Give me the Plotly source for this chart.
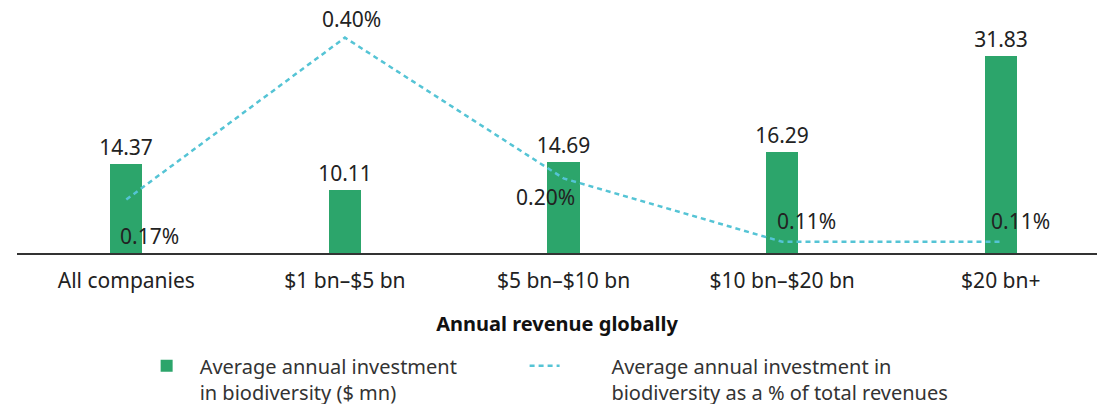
import plotly.graph_objects as go

categories = ["All companies", "$1 bn\u2013$5 bn", "$5 bn\u2013$10 bn", "$10 bn\u2013$20 bn", "$20 bn+"]
investment_mn = [14.37, 10.11, 14.69, 16.29, 31.83]
pct_revenue = [0.17, 0.40, 0.20, 0.11, 0.11]
pct_labels = ["0.17%", "0.40%", "0.20%", "0.11%", "0.11%"]

green = "#2ca56b"
cyan = "#55c4d5"
font = "Noto Sans"
pad = "\u00a0" * 9  # extra gap between the dotted line key and its text

fig = go.Figure()

fig.add_trace(go.Bar(
    x=categories,
    y=investment_mn,
    name="Average annual investment<br>in biodiversity ($ mn)",
    marker=dict(color=green, line=dict(width=0)),
    width=0.147,
    text=[f"{v:.2f}" for v in investment_mn],
    textposition="outside",
    constraintext="none",
    textfont=dict(size=21, color="#222", family=font),
    cliponaxis=False,
    legend="legend",
))

fig.add_trace(go.Scatter(
    x=categories,
    y=pct_revenue,
    yaxis="y2",
    mode="lines",
    name=pad + "Average annual investment in<br>" + pad + "biodiversity as a % of total revenues",
    line=dict(color=cyan, width=2.5, dash="5px,4px"),
    legend="legend2",
))

# line labels sit a bit away from their points, like the original
shifts = [(23, -36), (7, 19), (-18, -19), (24, 21), (20, 21)]
for c, v, lab, (dx, dy) in zip(categories, pct_revenue, pct_labels, shifts):
    fig.add_annotation(x=c, y=v, yref="y2", text=lab, showarrow=False,
                       xshift=dx, yshift=dy,
                       font=dict(size=21, color="#222", family=font))

fig.update_layout(
    width=1097, height=404,
    margin=dict(l=17, r=0, t=20, b=151, autoexpand=False),
    paper_bgcolor="white", plot_bgcolor="white",
    font=dict(family=font, size=20, color="#222"),
    showlegend=True,
    bargap=0,
    xaxis=dict(
        range=[-0.5, 4.44],
        showline=True, linecolor="#333", linewidth=1.5,
        ticks="", tickfont=dict(size=21, color="#222"),
        ticklabelstandoff=8,
        title=dict(text="<b>Annual revenue globally</b>", font=dict(size=20, color="#111"), standoff=24),
    ),
    yaxis=dict(range=[0, 37.6], visible=False),
    yaxis2=dict(range=[0.094, 0.425], overlaying="y", visible=False),
    legend=dict(
        orientation="h", x=0.108, y=-0.40, xanchor="left", yanchor="top",
        valign="top", font=dict(size=20, color="#333"),
        itemwidth=56,
    ),
    legend2=dict(
        orientation="h", x=0.47, y=-0.40, xanchor="left", yanchor="top",
        valign="top", font=dict(size=20, color="#333"),
        itemwidth=30,
    ),
)

fig.write_html("out.html", config={"displayModeBar": False},
               post_script="document.body.style.margin='0';")
